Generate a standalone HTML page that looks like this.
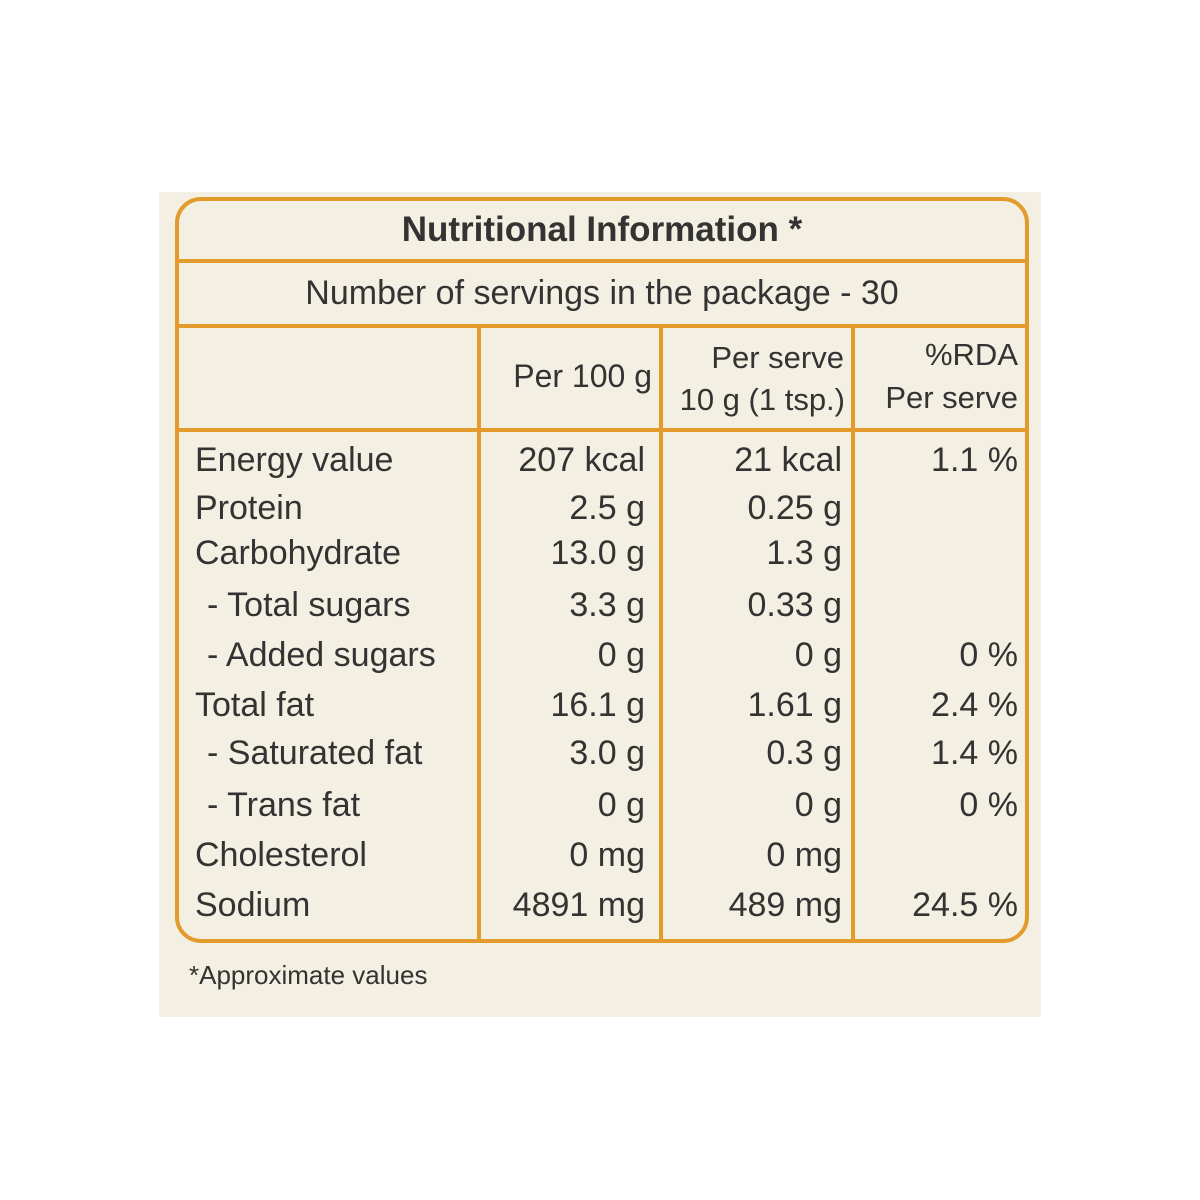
<!DOCTYPE html>
<html><head><meta charset="utf-8">
<style>
html,body{margin:0;padding:0;background:#fff;}
body{width:1200px;height:1200px;position:relative;overflow:hidden;font-family:"Liberation Sans",sans-serif;color:#333;}
#panel{position:absolute;left:159px;top:192px;width:882px;height:825px;background:#f3efe2;}
#box{position:absolute;left:175px;top:197px;width:846px;height:738px;border:4px solid #e39b2d;border-radius:26px;}
.h{position:absolute;height:4px;background:#e39b2d;left:175px;width:854px;}
.v{position:absolute;width:4px;background:#e39b2d;top:327px;height:612px;}
.t{position:absolute;white-space:nowrap;font-size:33px;line-height:1;}
.r{text-align:right;}
</style></head><body>
<div id="panel"></div>
<div id="box"></div>
<div class="h" style="top:259px"></div>
<div class="h" style="top:324px"></div>
<div class="h" style="top:428px"></div>
<div class="v" style="left:477px"></div>
<div class="v" style="left:659px"></div>
<div class="v" style="left:851px"></div>

<div class="t" style="left:175px;width:854px;text-align:center;top:212px;font-weight:bold;font-size:35px">Nutritional Information *</div>
<div class="t" style="left:175px;width:854px;text-align:center;top:276px;font-size:34px">Number of servings in the package - 30</div>

<div class="t r" style="right:548px;top:360px;font-size:32px">Per 100 g</div>
<div class="t r" style="right:356px;top:342px;font-size:31px">Per serve</div>
<div class="t r" style="right:355px;top:384px;font-size:31px">10 g (1 tsp.)</div>
<div class="t r" style="right:182px;top:339px;font-size:31px">%RDA</div>
<div class="t r" style="right:182px;top:382px;font-size:31px">Per serve</div>

<div id="rows"></div>
<div class="t" style="left:189px;top:962px;font-size:26px">*Approximate values</div>

<script>
const names=["Energy value","Protein","Carbohydrate"," - Total sugars"," - Added sugars","Total fat"," - Saturated fat"," - Trans fat","Cholesterol","Sodium"];
const per100=["207 kcal","2.5 g","13.0 g","3.3 g","0 g","16.1 g","3.0 g","0 g","0 mg","4891 mg"];
const perServe=["21 kcal","0.25 g","1.3 g","0.33 g","0 g","1.61 g","0.3 g","0 g","0 mg","489 mg"];
const rda=["1.1 %","","","","0 %","2.4 %","1.4 %","0 %","","24.5 %"];
const rowTops=[443,491,536,588,638,688,736,788,838,888];
const rows=document.getElementById('rows');
function mk(text,style,name){
  const d=document.createElement('div');
  d.className='t';
  d.style.cssText=style;
  d.textContent=text;
  
  
  rows.appendChild(d);
}
names.forEach((n,i)=>{
  const top=rowTops[i];
  const indent=n.startsWith(' ');
  mk(indent?'- '+n.trim().slice(2):n,'left:'+(indent?207:195)+'px;top:'+top+'px;font-size:34px','row-name');
  mk(per100[i],'right:555px;top:'+top+'px;font-size:34px','row-per100');
  mk(perServe[i],'right:358px;top:'+top+'px;font-size:34px','row-perserve');
  if(rda[i]) mk(rda[i],'right:182px;top:'+top+'px;font-size:34px','row-rda');
});
</script>
</body></html>
